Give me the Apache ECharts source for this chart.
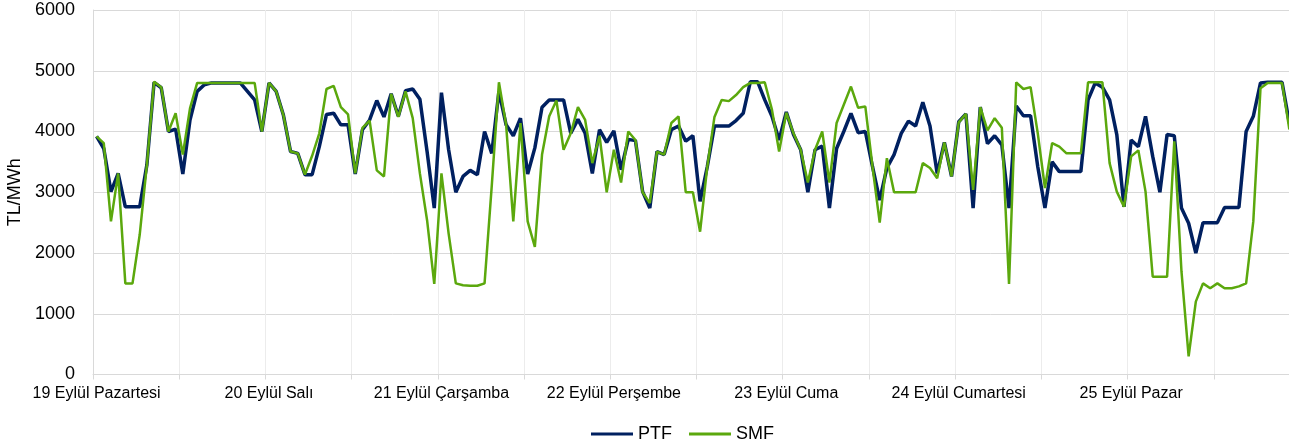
<!DOCTYPE html>
<html>
<head>
<meta charset="utf-8">
<script src="https://cdn.jsdelivr.net/npm/echarts@6/dist/echarts.min.js"></script>
<style>
html,body{margin:0;padding:0;background:#fff;}
#chart{width:1289px;height:446px;}
</style>
</head>
<body>
<div id="chart"></div>
<script>
// Day labels (one per 24 hourly points)
const days = ['19 Eylül Pazartesi','20 Eylül Salı','21 Eylül Çarşamba','22 Eylül Perşembe','23 Eylül Cuma','24 Eylül Cumartesi','25 Eylül Pazar'];
const hoursPerDay = 24;
const yTicks = [0,1000,2000,3000,4000,5000,6000];

// PTF hourly values (TL/MWh)
const ptf = [
3920,3720,3010,3310,2760,2760,2760,3450,4810,4720,4000,4040,3300,4190,4660,4770,4800,4800,4800,4800,4800,4660,4520,4000,
4800,4660,4270,3670,3640,3290,3290,3750,4280,4300,4110,4110,3300,4030,4190,4510,4240,4620,4250,4670,4700,4530,3670,2740,
4640,3700,3000,3260,3360,3290,4000,3640,4660,4110,3930,4220,3300,3730,4400,4520,4520,4520,3970,4200,3970,3310,4030,3820,
4010,3370,3870,3850,3010,2740,3670,3620,4030,4090,3840,3930,2850,3420,4090,4090,4090,4180,4300,4820,4820,4520,4250,3860,
4320,3950,3700,3000,3700,3760,2740,3720,4000,4300,3980,4000,3420,2870,3400,3620,3970,4170,4090,4480,4090,3310,3820,3260,
4160,4290,2740,4400,3800,3930,3780,2740,4420,4260,4260,3420,2740,3500,3340,3340,3340,3340,4520,4800,4730,4520,3950,2760,
3860,3750,4250,3590,3000,3950,3930,2740,2490,2000,2500,2500,2500,2750,2750,2750,4000,4250,4800,4810,4810,4810,4150,3900
];
// SMF hourly values (TL/MWh)
const smf = [
3920,3810,2520,3310,1500,1500,2300,3450,4820,4730,4000,4300,3620,4380,4800,4800,4800,4800,4800,4800,4800,4800,4800,4000,
4800,4660,4270,3670,3640,3290,3600,3970,4700,4750,4400,4280,3310,4060,4180,3360,3260,4620,4240,4660,4220,3310,2540,1490,
3310,2320,1500,1470,1460,1460,1500,3100,4810,4110,2520,4140,2520,2100,3620,4250,4510,3700,3970,4400,4190,3480,3930,3000,
3700,3160,4000,3860,3000,2820,3670,3620,4140,4250,3000,3000,2350,3420,4240,4520,4500,4600,4730,4800,4800,4810,4360,3670,
4310,3970,3700,3160,3700,4000,3160,4140,4440,4740,4390,4410,3420,2500,3560,3000,3000,3000,3000,3480,3400,3230,3820,3260,
4150,4290,3040,4400,4020,4220,4060,1490,4810,4700,4730,3970,3070,3810,3750,3640,3640,3640,4810,4810,4810,3480,3010,2760,
3590,3690,3010,1610,1610,1610,3840,1700,300,1200,1500,1420,1500,1420,1420,1450,1500,2520,4710,4800,4800,4800,4050,3900
];

const categories = [];
days.forEach(d => { for (let h = 0; h < hoursPerDay; h++) categories.push(d + '|' + h); });

const chart = echarts.init(document.getElementById('chart'), null, {renderer:'canvas'});
const font = '"Liberation Sans", Arial, sans-serif';
chart.setOption({
  animation: false,
  backgroundColor: '#ffffff',
  grid: { left: 93, top: 10, width: 1207, height: 364.5, containLabel: false, outerBoundsMode: 'none' },
  legend: {
    left: 586, top: 420,
    itemWidth: 42, itemHeight: 3, itemGap: 17,
    icon: 'rect',
    textStyle: { fontFamily: font, fontSize: 18, color: '#000' },
    data: ['PTF','SMF']
  },
  xAxis: {
    type: 'category',
    data: categories,
    boundaryGap: true,
    axisLine: { show: true, lineStyle: { color: '#d9d9d9', width: 1 } },
    axisTick: { show: true, length: 5, interval: (i) => i % 12 === 0, lineStyle: { color: '#d9d9d9' } },
    splitLine: { show: true, interval: (i) => i % 12 === 0, lineStyle: { color: '#ececec', width: 1 } },
    axisLabel: {
      interval: (i) => i % hoursPerDay === 0,
      formatter: (v) => v.split('|')[0],
      fontFamily: font, fontSize: 16, color: '#000', margin: 11
    }
  },
  yAxis: {
    type: 'value',
    min: yTicks[0], max: yTicks[yTicks.length-1], interval: 1000,
    name: 'TL/MWh', nameLocation: 'middle', nameGap: 68, nameRotate: 90,
    nameTextStyle: { fontFamily: font, fontSize: 18, color: '#000' },
    axisLine: { show: true, lineStyle: { color: '#d9d9d9' } },
    axisTick: { show: false },
    splitLine: { show: true, lineStyle: { color: '#d9d9d9', width: 1 } },
    axisLabel: { fontFamily: font, fontSize: 18, color: '#000', margin: 18, formatter: (v) => String(v) }
  },
  series: [
    { name: 'PTF', type: 'line', data: ptf, showSymbol: false, symbol: 'none',
      lineStyle: { color: '#002060', width: 3.5 }, itemStyle: { color: '#002060' } },
    { name: 'SMF', type: 'line', data: smf, showSymbol: false, symbol: 'none',
      lineStyle: { color: '#5ba80d', width: 2.5 }, itemStyle: { color: '#5ba80d' } }
  ]
});
</script>
</body>
</html>
